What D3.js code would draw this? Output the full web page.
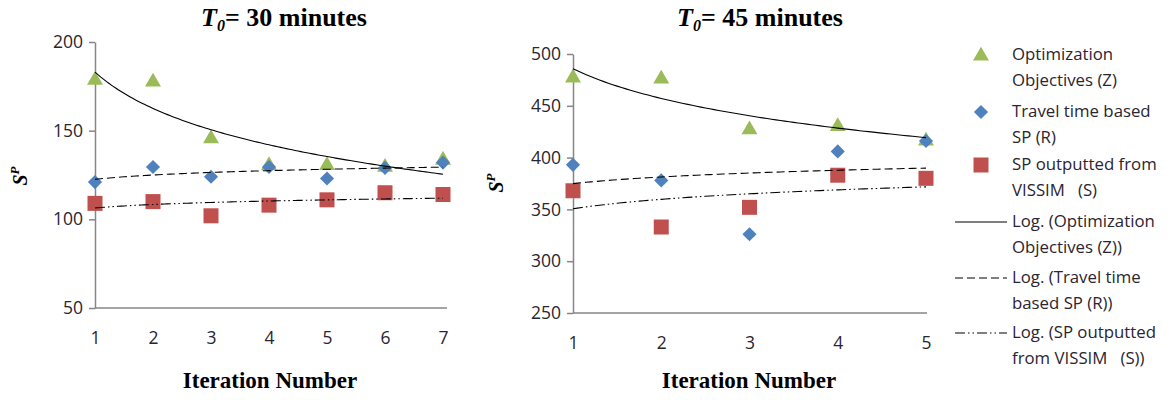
<!DOCTYPE html>
<html>
<head>
<meta charset="utf-8">
<script src="https://cdn.jsdelivr.net/npm/d3@7"></script>
<style>
  body { margin: 0; background: #fff; }
  .tick text { font-family: "Open Sans", sans-serif; font-size: 17.5px; fill: #2a2530; }
  .legend text { font-family: "Open Sans", sans-serif; font-size: 16.8px; fill: #2a2530; white-space: pre; }
  .title, .xtitle, .ytitle { font-family: "Liberation Serif", "Times New Roman", serif; font-weight: bold; fill: #000; }
</style>
</head>
<body>
<svg id="chart" width="1167" height="400"></svg>
<script>
// ---- data ----
const iterLeft = [1, 2, 3, 4, 5, 6, 7];
const zLeft = [179, 178, 146, 131, 131, 130, 134];
const rLeft = [121, 129.5, 124, 129.5, 123, 129, 132];
const sLeft = [109, 110, 102, 108, 111, 115, 114];
const yTicksLeft = [50, 100, 150, 200];

const iterRight = [1, 2, 3, 4, 5];
const zRight = [478, 477, 428, 431, 417];
const rRight = [393, 378, 326, 406, 416];
const sRight = [368, 333, 352, 383, 380];
const yTicksRight = [250, 300, 350, 400, 450, 500];

const titles = ['30 minutes', '45 minutes'];
const legendLabels = [
  ['Optimization', 'Objectives (Z)'],
  ['Travel time based', 'SP (R)'],
  ['SP outputted from', 'VISSIM   (S)'],
  ['Log. (Optimization', 'Objectives (Z))'],
  ['Log. (Travel time', 'based SP (R))'],
  ['Log. (SP outputted', 'from VISSIM   (S))']
];

const COLORS = {z: '#9BBB59', r: '#4F81BD', s: '#C0504D'};
const DASH = {z: null, r: '8,4', s: '10,3,1.5,3,1.5,3'};

const svg = d3.select('#chart');

// least squares fit of y = a + b ln(x), same as Excel's log trendline
const logFit = (xs, ys) => {
    const lx = xs.map(Math.log);
    const mx = d3.mean(lx), my = d3.mean(ys);
    const b = d3.sum(lx, (v, i) => (v - mx) * (ys[i] - my)) / d3.sum(lx, v => (v - mx) ** 2);
    return {a: my - b * mx, b: b};
};

const marker = (g, kind, x, y) => {
    if (kind === 'z') {
        g.append('path').attr('d', d3.symbol(d3.symbolTriangle, 110)())
          .attr('transform', `translate(${x},${y + 1})`).attr('fill', COLORS.z);
    } else if (kind === 'r') {
        g.append('rect').attr('x', -5).attr('y', -5).attr('width', 10).attr('height', 10)
          .attr('transform', `translate(${x},${y}) rotate(45)`).attr('fill', COLORS.r);
    } else {
        g.append('rect').attr('x', x - 7.5).attr('y', y - 7.5).attr('width', 15).attr('height', 15)
          .attr('fill', COLORS.s);
    }
};

const drawPanel = (cfg) => {
    const x = d3.scaleLinear().domain(d3.extent(cfg.iter)).range(cfg.xr);
    const y = d3.scaleLinear().domain(d3.extent(cfg.ticks)).range(cfg.yr);
    const g = svg.append('g');

    const ya = g.append('g')
      .attr('transform', `translate(${cfg.xr[0]},0)`)
      .call(d3.axisLeft(y).tickValues(cfg.ticks).tickSize(6).tickSizeOuter(0).tickPadding(6));
    ya.select('.domain').attr('stroke', '#868686').attr('stroke-width', 1.5);
    ya.selectAll('.tick line').attr('stroke', '#868686').attr('stroke-width', 1.5);

    const xa = g.append('g')
      .attr('transform', `translate(0,${cfg.yr[0]})`)
      .call(d3.axisBottom(x).tickValues(cfg.iter).tickFormat(d3.format('d')).tickSize(0).tickPadding(24));
    xa.select('.domain').attr('stroke', '#868686').attr('stroke-width', 1.5)
      .attr('d', `M${cfg.xr[0]},0H${cfg.xr[1] + cfg.axisExtra}`);

    const series = [['z', cfg.z], ['r', cfg.r], ['s', cfg.s]];
    series.forEach(([k, vals]) => {
        const m = g.append('g');
        vals.forEach((v, i) => marker(m, k, x(cfg.iter[i]), y(v)));
    });

    series.forEach(([k, vals]) => {
        const fit = logFit(cfg.iter, vals);
        const xs = d3.range(1, d3.max(cfg.iter) + 0.001, 0.05);
        g.append('path')
          .datum(xs)
          .attr('d', d3.line().x(d => x(d)).y(d => y(fit.a + fit.b * Math.log(d))))
          .attr('fill', 'none').attr('stroke', '#000').attr('stroke-width', 1.1)
          .attr('stroke-dasharray', DASH[k]);
    });

    const t = g.append('text').attr('class', 'title')
      .attr('x', cfg.titleX).attr('y', 26).attr('text-anchor', 'middle').attr('font-size', 26);
    t.append('tspan').attr('font-style', 'italic').text('T');
    t.append('tspan').attr('font-style', 'italic').attr('font-size', 16).attr('dy', 5).text('0');
    t.append('tspan').attr('dy', -5).text('= ' + cfg.title);

    g.append('text').attr('class', 'xtitle')
      .attr('x', cfg.xTitleX).attr('y', 388).attr('text-anchor', 'middle').attr('font-size', 23)
      .text('Iteration Number');

    const yt = g.append('text').attr('class', 'ytitle')
      .attr('transform', `translate(${cfg.yTitle[0]},${cfg.yTitle[1]}) rotate(-90)`)
      .attr('text-anchor', 'middle').attr('font-size', 20).attr('font-style', 'italic');
    yt.append('tspan').text('S');
    yt.append('tspan').attr('font-size', 13).attr('dy', -8).text('P');
};

drawPanel({iter: iterLeft, z: zLeft, r: rLeft, s: sLeft, ticks: yTicksLeft,
    xr: [95, 443], yr: [308, 42], axisExtra: 4, title: titles[0], titleX: 284,
    xTitleX: 270, yTitle: [27, 176]});
drawPanel({iter: iterRight, z: zRight, r: rRight, s: sRight, ticks: yTicksRight,
    xr: [573, 926], yr: [313, 54], axisExtra: 1, title: titles[1], titleX: 760,
    xTitleX: 749, yTitle: [503, 183]});

// legend
const lg = svg.append('g').attr('class', 'legend');
const rowsY = [55, 112, 165, 222, 278, 333];
const kinds = ['z', 'r', 's'];
legendLabels.forEach((lab, i) => {
    const yy = rowsY[i];
    if (i < 3) {
        marker(lg, kinds[i], 981, yy);
    } else {
        lg.append('line').attr('x1', 955).attr('x2', 1007).attr('y1', yy).attr('y2', yy)
          .attr('stroke', '#000').attr('stroke-width', 1.1)
          .attr('stroke-dasharray', DASH[kinds[i - 3]]);
    }
    const t = lg.append('text').attr('x', 1012).attr('y', yy + 5);
    t.append('tspan').text(lab[0]);
    t.append('tspan').attr('x', 1012).attr('dy', 25.5).text(lab[1]);
});
</script>
</body>
</html>
